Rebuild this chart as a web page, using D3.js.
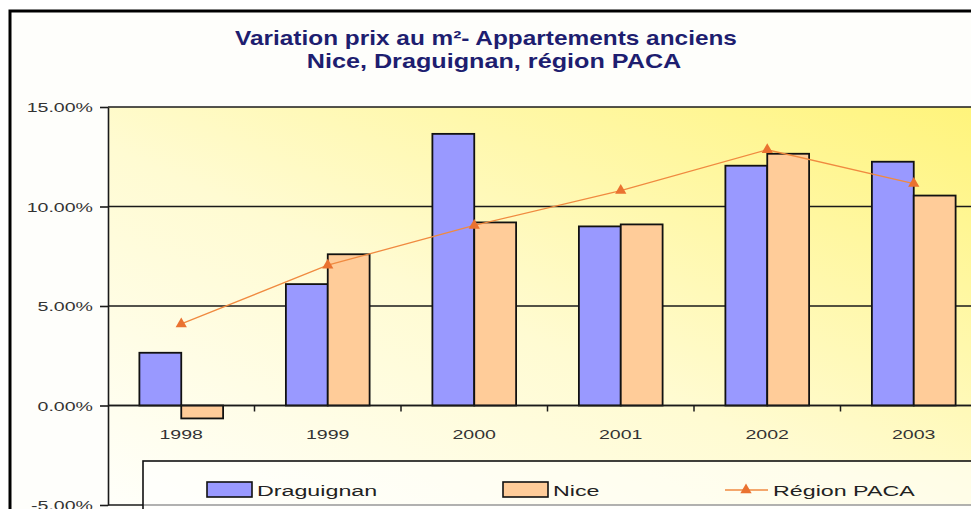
<!DOCTYPE html>
<html>
<head>
<meta charset="utf-8">
<script src="https://cdnjs.cloudflare.com/ajax/libs/d3/7.8.5/d3.min.js"></script>
<style>
  body { margin: 0; background: #fff; }
  svg { display: block; }
  text { font-family: "Liberation Sans", Arial, sans-serif; }
</style>
</head>
<body>
<svg id="chart" width="971" height="509"></svg>
<script>
var years = ["1998", "1999", "2000", "2001", "2002", "2003"];
var draguignan = [2.65, 6.1, 13.65, 9.0, 12.05, 12.25];
var nice = [-0.65, 7.6, 9.2, 9.1, 12.65, 10.55];
var paca = [4.1, 7.05, 9.05, 10.8, 12.85, 11.15];
var yTicks = [-5, 0, 5, 10, 15];
var titleLines = ["Variation prix au m²- Appartements anciens", "Nice, Draguignan, région PACA"];
var seriesNames = ["Draguignan", "Nice", "Région PACA"];

var svg = d3.select("#chart");

// text in the picture is wider than normal, so stretch it sideways
function wideText(g, x, y, str, size, sx, anchor) {
  return g.append("text")
    .attr("transform", "translate(" + x + "," + y + ") scale(" + sx + ",1)")
    .attr("text-anchor", anchor)
    .style("font-size", size + "px")
    .text(str);
}

// note: "top" is taken by window.top, so use other names
var plotLeft = 108, plotRight = 987, plotTop = 107, plotBottom = 505;

var x = d3.scaleBand().domain(years).range([plotLeft, plotRight]);
var inner = d3.scaleBand().domain(["d", "n"]).range([0, x.bandwidth()]).paddingOuter(0.75);
var y = d3.scaleLinear().domain([-5, 15]).range([plotBottom, plotTop]);

// gradient for plot area
var grad = svg.append("defs").append("linearGradient")
  .attr("id", "bg").attr("x1", 0).attr("y1", 1).attr("x2", 1).attr("y2", 0);
grad.append("stop").attr("offset", 0).attr("stop-color", "#fffffa");
grad.append("stop").attr("offset", 0.45).attr("stop-color", "#fffbd2");
grad.append("stop").attr("offset", 1).attr("stop-color", "#fff47a");

// outer frame
svg.append("rect")
  .attr("x", 10).attr("y", 11).attr("width", 1000).attr("height", 600)
  .attr("fill", "#fefefb").attr("stroke", "#000").attr("stroke-width", 3);

// title (second line sits a bit right of the first in the picture)
var titlePos = [{ x: 486, y: 45, sx: 1.22 }, { x: 494, y: 68, sx: 1.26 }];
titleLines.forEach(function(t, i) {
  wideText(svg, titlePos[i].x, titlePos[i].y, t, 20, titlePos[i].sx, "middle")
    .style("font-weight", "bold")
    .attr("fill", "#1e1e70");
});

svg.append("rect")
  .attr("x", plotLeft).attr("y", plotTop)
  .attr("width", plotRight - plotLeft).attr("height", plotBottom - plotTop)
  .attr("fill", "url(#bg)");

// gridlines
svg.append("g").selectAll("line")
  .data(yTicks)
  .enter().append("line")
  .attr("x1", plotLeft).attr("x2", plotRight)
  .attr("y1", function(d) { return y(d); })
  .attr("y2", function(d) { return y(d); })
  .attr("stroke", "#1a1a1a").attr("stroke-width", 1.6);

// y axis
var yAxis = svg.append("g")
  .attr("transform", "translate(" + plotLeft + ",0)")
  .call(d3.axisLeft(y).tickValues(yTicks).tickSize(8).tickSizeOuter(0).tickFormat(""));
yAxis.select(".domain").attr("stroke", "#1a1a1a").attr("stroke-width", 1.6);
yAxis.selectAll(".tick line").attr("stroke", "#1a1a1a").attr("stroke-width", 1.6);
yAxis.selectAll(".tick").each(function(d) {
  wideText(d3.select(this), -15, 4.5, d.toFixed(2) + "%", 13.5, 1.45, "end").attr("fill", "#333");
});

// bars
var groups = svg.append("g").selectAll("g")
  .data(years)
  .enter().append("g")
  .attr("transform", function(d) { return "translate(" + x(d) + ",0)"; });

groups.append("rect")
  .attr("x", inner("d"))
  .attr("width", inner.bandwidth())
  .attr("y", function(d, i) { return y(Math.max(0, draguignan[i])); })
  .attr("height", function(d, i) { return Math.abs(y(draguignan[i]) - y(0)); })
  .attr("fill", "#9999ff").attr("stroke", "#111").attr("stroke-width", 1.8);

groups.append("rect")
  .attr("x", inner("n"))
  .attr("width", inner.bandwidth())
  .attr("y", function(d, i) { return y(Math.max(0, nice[i])); })
  .attr("height", function(d, i) { return Math.abs(y(nice[i]) - y(0)); })
  .attr("fill", "#ffcc99").attr("stroke", "#111").attr("stroke-width", 1.8);

// x axis line + ticks between categories
svg.append("line")
  .attr("x1", plotLeft).attr("x2", plotRight).attr("y1", y(0)).attr("y2", y(0))
  .attr("stroke", "#1a1a1a").attr("stroke-width", 1.6);
svg.append("g").selectAll("line")
  .data(years.slice(1))
  .enter().append("line")
  .attr("x1", function(d) { return x(d); })
  .attr("x2", function(d) { return x(d); })
  .attr("y1", y(0)).attr("y2", y(0) + 6)
  .attr("stroke", "#1a1a1a").attr("stroke-width", 1.5);

years.forEach(function(d) {
  wideText(svg, x(d) + x.bandwidth() / 2, 438.5, d, 13.5, 1.45, "middle").attr("fill", "#333");
});

// PACA line
var line = d3.line()
  .x(function(d, i) { return x(years[i]) + x.bandwidth() / 2; })
  .y(function(d) { return y(d); });

svg.append("path")
  .datum(paca)
  .attr("d", line)
  .attr("fill", "none").attr("stroke", "#f08a40").attr("stroke-width", 1.3);

svg.append("g").selectAll("path")
  .data(paca)
  .enter().append("path")
  .attr("d", d3.symbol(d3.symbolTriangle).size(55))
  .attr("transform", function(d, i) {
    return "translate(" + (x(years[i]) + x.bandwidth() / 2) + "," + y(d) + ")";
  })
  .attr("fill", "#ea7230");

// legend
var legend = svg.append("g");
legend.append("rect")
  .attr("x", 143).attr("y", 461).attr("width", 900).attr("height", 100)
  .attr("fill", "#fff").attr("fill-opacity", 0.55)
  .attr("stroke", "#111").attr("stroke-width", 1.6);

var swatches = [{ x: 207, fill: "#9999ff" }, { x: 503, fill: "#ffcc99" }];
swatches.forEach(function(s, i) {
  legend.append("rect")
    .attr("x", s.x).attr("y", 482).attr("width", 45).attr("height", 15)
    .attr("fill", s.fill).attr("stroke", "#111").attr("stroke-width", 1.6);
  wideText(legend, s.x + 50, 495.5, seriesNames[i], 15.5, 1.5, "start").attr("fill", "#222");
});
legend.append("line")
  .attr("x1", 725).attr("x2", 768).attr("y1", 490).attr("y2", 490)
  .attr("stroke", "#f08a40").attr("stroke-width", 1.3);
legend.append("path")
  .attr("d", d3.symbol(d3.symbolTriangle).size(55))
  .attr("transform", "translate(746,490)")
  .attr("fill", "#ea7230");
wideText(legend, 773, 495.5, seriesNames[2], 15.5, 1.5, "start").attr("fill", "#222");
</script>
</body>
</html>
